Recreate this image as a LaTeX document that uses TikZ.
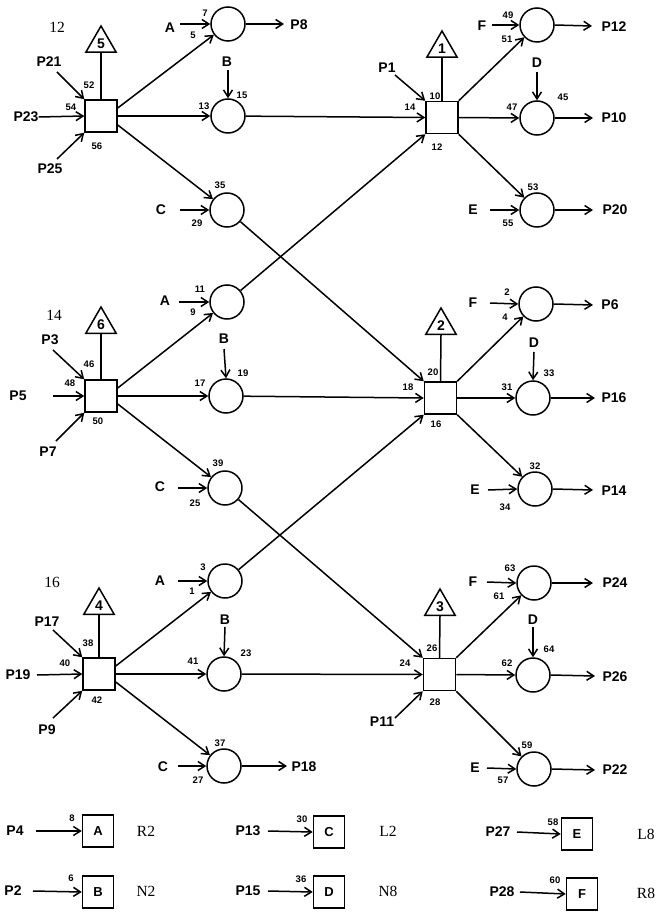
\documentclass[tikz,border=0pt]{standalone}
\usepackage{fontspec}
\setmainfont{Liberation Sans}
\newfontfamily\serx{Liberation Serif}
\usetikzlibrary{arrows.meta,shapes.geometric,calc}
\begin{document}
\begin{tikzpicture}[x=1pt,y=-1pt,
  every node/.style={inner sep=0pt},
  sq/.style={draw,line width=1.5pt,minimum size=32pt},
  cir/.style={draw,circle,line width=1.5pt,minimum size=34pt},
  tri/.style={draw,regular polygon,regular polygon sides=3,line width=1.5pt,minimum size=35pt,font=\fontsize{14}{14}\selectfont\bfseries},
  lbl/.style={font=\bfseries\fontsize{14}{14}\selectfont},
  num/.style={font=\bfseries\fontsize{9.5}{10}\selectfont},
  ser/.style={font=\serx\fontsize{15.5}{16}\selectfont},
  lbox/.style={draw,line width=1.5pt,minimum width=31pt,minimum height=32pt,font=\fontsize{13}{13}\selectfont\bfseries},
  arr/.style={line width=1.5pt,-{Straight Barb[length=7pt,width=9pt]}},
  ln/.style={line width=1.5pt}]
\fill[white] (0,0) rectangle (665,912);
\useasboundingbox (0,0) rectangle (665,912);

% ================= ROW 1 LEFT =================
\node[ser] (n12) at (57,27) {12};
\node[sq] (L1) at (101,116) {};
\node[tri] (t5) at (101,43.5) {5};
\draw[ln] (L1.north) -- (t5.south);
\node[lbl] (p21) at (49,62) {P21};
\coordinate (p21a) at (57,72);
\draw[arr] (p21a) -- (L1.north west);
\node[lbl] (p23) at (26,117) {P23};
\draw[arr] (p23.east) -- (L1.west);
\node[lbl] (p25) at (50,169) {P25};
\coordinate (p25a) at (57,159);
\draw[arr] (p25a) -- (L1.south west);
\node[num] (k52) at (89,85) {52};
\node[num] (k54) at (71,107) {54};
\node[num] (k56) at (97,146) {56};

\node[cir] (cA1) at (228,24) {};
\node[lbl] (a1) at (170,28) {A};
\coordinate (a1s) at (180,24);
\draw[arr] (a1s) -- (cA1.west);
\node[num] (k7) at (205,13) {7};
\node[num] (k5) at (193,35) {5};
\coordinate (p8a) at (284,24);
\draw[arr] (cA1.east) -- (p8a);
\node[lbl] (p8) at (299,25) {P8};

\node[cir] (cB1) at (228,116) {};
\node[lbl] (b1) at (227,62) {B};
\coordinate (b1s) at (228,70);
\draw[arr] (b1s) -- (cB1.north);
\node[num] (k13) at (204,106) {13};
\node[num] (k15) at (242,95) {15};

\node[cir] (cC1) at (227,210) {};
\node[lbl] (c1) at (161,210) {C};
\coordinate (c1s) at (180,210);
\draw[arr] (c1s) -- (cC1.west);
\node[num] (k35) at (220,185) {35};
\node[num] (k29) at (197,223) {29};

\draw[arr] ($(L1.east)+(0,-8)$) -- (cA1);
\draw[arr] (L1.east) -- (cB1.west);
\draw[arr] ($(L1.east)+(0,9)$) -- (cC1);

% ================= ROW 1 RIGHT =================
\node[sq] (R1) at (442,117.5) {};
\node[tri] (t1) at (442,48.5) {1};
\draw[ln] (R1.north) -- (t1.south);
\node[lbl] (p1) at (387,68) {P1};
\coordinate (p1a) at (395,75);
\draw[arr] (p1a) -- (R1.north west);
\node[num] (k10) at (435,96) {10};
\node[num] (k14) at (410,107) {14};
\node[num] (k12) at (437,147) {12};

\node[cir] (cF1) at (537,25) {};
\node[lbl] (f1) at (482,26) {F};
\coordinate (f1s) at (492,25);
\draw[arr] (f1s) -- (cF1.west);
\node[num] (k49) at (508,15) {49};
\node[num] (k51) at (507,39) {51};
\coordinate (p12a) at (592,26);
\draw[arr] (cF1.east) -- (p12a);
\node[lbl] (p12) at (614,27) {P12};

\node[cir] (cD1) at (537,118) {};
\node[lbl] (d1) at (537,63) {D};
\coordinate (d1s) at (537,72);
\draw[arr] (d1s) -- (cD1.north);
\node[num] (k45) at (563,97) {45};
\node[num] (k47) at (512,107) {47};
\coordinate (p10a) at (593,118);
\draw[arr] (cD1.east) -- (p10a);
\node[lbl] (p10) at (614,118) {P10};

\node[cir] (cE1) at (537,210) {};
\node[lbl] (e1) at (473,210) {E};
\coordinate (e1s) at (490,210);
\draw[arr] (e1s) -- (cE1.west);
\node[num] (k53) at (533,187) {53};
\node[num] (k55) at (508,223) {55};
\coordinate (p20a) at (593,210);
\draw[arr] (cE1.east) -- (p20a);
\node[lbl] (p20) at (615,210) {P20};

\draw[arr] (R1.north east) -- (cF1);
\draw[arr] (R1.east) -- (cD1.west);
\draw[arr] (R1.south east) -- (cE1);

% ================= ROW 2 LEFT =================
\node[ser] (n14) at (54,315) {14};
\node[sq] (L2) at (101,396) {};
\node[tri] (t6) at (101,324.5) {6};
\draw[ln] (L2.north) -- (t6.south);
\node[lbl] (p3) at (50,340) {P3};
\coordinate (p3a) at (53,350);
\draw[arr] (p3a) -- (L2.north west);
\node[lbl] (p5) at (18,396) {P5};
\coordinate (p5a) at (53,396);
\draw[arr] (p5a) -- (L2.west);
\node[lbl] (p7) at (48,452) {P7};
\coordinate (p7a) at (56,441);
\draw[arr] (p7a) -- (L2.south west);
\node[num] (k46) at (89,364) {46};
\node[num] (k48) at (70,383) {48};
\node[num] (k50) at (98,421) {50};

\node[cir] (cA2) at (227,302) {};
\node[lbl] (a2) at (165,301) {A};
\coordinate (a2s) at (179,302);
\draw[arr] (a2s) -- (cA2.west);
\node[num] (k11) at (200,289) {11};
\node[num] (k9) at (193,312) {9};

\node[cir] (cB2) at (226,396) {};
\node[lbl] (b2) at (224,339) {B};
\coordinate (b2s) at (224,349);
\draw[arr] (b2s) -- (cB2.north);
\node[num] (k17) at (200,383) {17};
\node[num] (k19) at (243,373) {19};

\node[cir] (cC2) at (225,488) {};
\node[lbl] (c2) at (160,487) {C};
\coordinate (c2s) at (178,488);
\draw[arr] (c2s) -- (cC2.west);
\node[num] (k39) at (218,463) {39};
\node[num] (k25) at (195,503) {25};

\draw[arr] ($(L2.east)+(0,-8)$) -- (cA2);
\draw[arr] (L2.east) -- (cB2.west);
\draw[arr] ($(L2.east)+(0,8)$) -- (cC2);

% ================= ROW 2 RIGHT =================
\node[sq] (R2) at (440.5,398) {};
\node[tri] (t2) at (441,325.5) {2};
\draw[ln] (R2.north) -- (t2.south);
\node[num] (k20) at (433,372) {20};
\node[num] (k18) at (408,387) {18};
\node[num] (k16) at (436,424) {16};

\node[cir] (cF2) at (536,304) {};
\node[lbl] (f2) at (473,303) {F};
\coordinate (f2s) at (490,303);
\draw[arr] (f2s) -- (cF2.west);
\node[num] (k2) at (507,292) {2};
\node[num] (k4) at (505,317) {4};
\coordinate (p6a) at (593,305);
\draw[arr] (cF2.east) -- (p6a);
\node[lbl] (p6) at (610,305) {P6};

\node[cir] (cD2) at (533,398) {};
\node[lbl] (d2) at (534,343) {D};
\coordinate (d2s) at (534,352);
\draw[arr] (d2s) -- (cD2.north);
\node[num] (k33) at (549,373) {33};
\node[num] (k31) at (507,387) {31};
\coordinate (p16a) at (595,398);
\draw[arr] (cD2.east) -- (p16a);
\node[lbl] (p16) at (614,398) {P16};

\node[cir] (cE2) at (535,489) {};
\node[lbl] (e2) at (475,490) {E};
\coordinate (e2s) at (488,490);
\draw[arr] (e2s) -- (cE2.west);
\node[num] (k32) at (535,466) {32};
\node[num] (k34) at (505,507) {34};
\coordinate (p14a) at (593,490);
\draw[arr] (cE2.east) -- (p14a);
\node[lbl] (p14) at (614,491) {P14};

\draw[arr] (R2.north east) -- (cF2);
\draw[arr] (R2.east) -- (cD2.west);
\draw[arr] (R2.south east) -- (cE2);

% ================= ROW 3 LEFT =================
\node[ser] (n16) at (52,582) {16};
\node[sq] (L3) at (99,674) {};
\node[tri] (t4) at (99,605.5) {4};
\draw[ln] (L3.north) -- (t4.south);
\node[lbl] (p17) at (47,622) {P17};
\coordinate (p17a) at (53,630);
\draw[arr] (p17a) -- (L3.north west);
\node[lbl] (p19) at (18,675) {P19};
\coordinate (p19a) at (37,675);
\draw[arr] (p19a) -- (L3.west);
\node[lbl] (p9) at (47,730) {P9};
\coordinate (p9a) at (53,718);
\draw[arr] (p9a) -- (L3.south west);
\node[num] (k38) at (88,643) {38};
\node[num] (k40) at (65,663) {40};
\node[num] (k42) at (97,700) {42};

\node[cir] (cA3) at (225,581) {};
\node[lbl] (a3) at (160,581) {A};
\coordinate (a3s) at (178,581);
\draw[arr] (a3s) -- (cA3.west);
\node[num] (k3) at (203,567) {3};
\node[num] (k1) at (192,591) {1};

\node[cir] (cB3) at (224,674) {};
\node[lbl] (b3) at (225,620) {B};
\coordinate (b3s) at (225,627);
\draw[arr] (b3s) -- (cB3.north);
\node[num] (k41) at (193,661) {41};
\node[num] (k23) at (246,653) {23};

\node[cir] (cC3) at (224,766) {};
\node[lbl] (c3) at (163,767) {C};
\coordinate (c3s) at (178,766);
\draw[arr] (c3s) -- (cC3.west);
\node[num] (k37) at (220,743) {37};
\node[num] (k27) at (198,780) {27};
\coordinate (p18a) at (287,766);
\draw[arr] (cC3.east) -- (p18a);
\node[lbl] (p18) at (304,767) {P18};

\draw[arr] ($(L3.east)+(0,-8)$) -- (cA3);
\draw[arr] (L3.east) -- (cB3.west);
\draw[arr] ($(L3.east)+(0,8)$) -- (cC3);

% ================= ROW 3 RIGHT =================
\node[sq] (R3) at (439.5,674.5) {};
\node[tri] (t3) at (440,606.5) {3};
\draw[ln] (R3.north) -- (t3.south);
\node[num] (k26) at (432,648) {26};
\node[num] (k24) at (405,663) {24};
\node[num] (k28) at (435,702) {28};
\node[lbl] (p11) at (382,722) {P11};
\coordinate (p11a) at (395,718);
\draw[arr] (p11a) -- (R3.south west);

\node[cir] (cF3) at (534,583) {};
\node[lbl] (f3) at (473,582) {F};
\coordinate (f3s) at (487,582);
\draw[arr] (f3s) -- (cF3.west);
\node[num] (k63) at (510,568) {63};
\node[num] (k61) at (499,596) {61};
\coordinate (p24a) at (593,583);
\draw[arr] (cF3.east) -- (p24a);
\node[lbl] (p24) at (615,583) {P24};

\node[cir] (cD3) at (533,675) {};
\node[lbl] (d3) at (533,620) {D};
\coordinate (d3s) at (533,627);
\draw[arr] (d3s) -- (cD3.north);
\node[num] (k64) at (549,649) {64};
\node[num] (k62) at (507,663) {62};
\coordinate (p26a) at (595,676);
\draw[arr] (cD3.east) -- (p26a);
\node[lbl] (p26) at (615,677) {P26};

\node[cir] (cE3) at (534,769) {};
\node[lbl] (e3) at (475,768) {E};
\coordinate (e3s) at (487,768);
\draw[arr] (e3s) -- (cE3.west);
\node[num] (k59) at (527,745) {59};
\node[num] (k57) at (503,780) {57};
\coordinate (p22a) at (595,770);
\draw[arr] (cE3.east) -- (p22a);
\node[lbl] (p22) at (615,770) {P22};

\draw[arr] (R3.north east) -- (cF3);
\draw[arr] (R3.east) -- (cD3.west);
\draw[arr] (R3.south east) -- (cE3);

% ================= CROSS CONNECTIONS =================
\draw[arr] (cB1) -- (R1.west);
\draw[arr] (cA2) -- (R1.south west);
\draw[arr] (cC1) -- (R2.north west);
\draw[arr] (cB2) -- (R2.west);
\draw[arr] (cA3) -- (R2.south west);
\draw[arr] (cC2) -- (R3.north west);
\draw[arr] (cB3) -- (R3.west);

% ================= LEGEND =================
\node[lbox] (bA) at (98,831) {A};
\node[lbl] (p4) at (15,831) {P4};
\coordinate (p4a) at (36,831);
\draw[arr] (p4a) -- (bA.west);
\node[num] (k8) at (72,818) {8};
\node[ser] (r2) at (146,831) {R2};

\node[lbox] (bC) at (329,832) {C};
\node[lbl] (p13) at (248,831) {P13};
\coordinate (p13a) at (268,831);
\draw[arr] (p13a) -- (bC.west);
\node[num] (k30) at (302,819) {30};
\node[ser] (l2) at (388,831) {L2};

\node[lbox] (bE) at (577,834) {E};
\node[lbl] (p27) at (498,832) {P27};
\coordinate (p27a) at (517,832);
\draw[arr] (p27a) -- (bE.west);
\node[num] (k58) at (553,822) {58};
\node[ser] (l8) at (646,834) {L8};

\node[lbox] (bB) at (98,892) {B};
\node[lbl] (p2) at (13,891) {P2};
\coordinate (p2a) at (33,891);
\draw[arr] (p2a) -- (bB.west);
\node[num] (k6) at (71,878) {6};
\node[ser] (n2) at (146,891) {N2};

\node[lbox] (bD) at (329,892) {D};
\node[lbl] (p15) at (248,891) {P15};
\coordinate (p15a) at (268,891);
\draw[arr] (p15a) -- (bD.west);
\node[num] (k36) at (301,879) {36};
\node[ser] (n8) at (388,891) {N8};

\node[lbox] (bF) at (582,894) {F};
\node[lbl] (p28) at (502,892) {P28};
\coordinate (p28a) at (520,892);
\draw[arr] (p28a) -- (bF.west);
\node[num] (k60) at (555,880) {60};
\node[ser] (r8) at (646,893) {R8};
\end{tikzpicture}
\end{document}
